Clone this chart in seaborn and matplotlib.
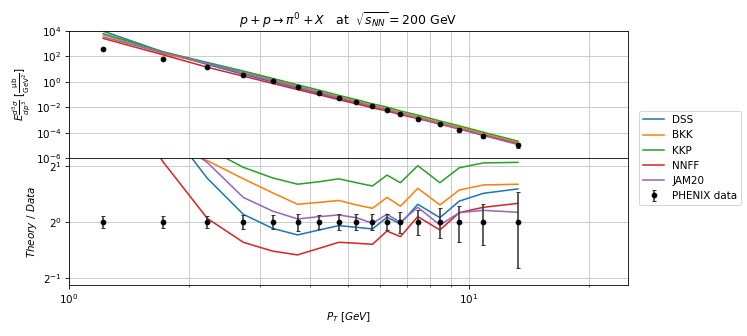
# p + p -> pi0 + X at sqrt(s_NN) = 200 GeV : theory vs PHENIX data

import numpy as np
import matplotlib
matplotlib.use("Agg")
import matplotlib.pyplot as plt
import seaborn as sns

# ============================================================
# Data
# ============================================================

pt = [1.22, 1.72, 2.22, 2.73, 3.23, 3.73, 4.23, 4.73, 5.23, 5.74,
      6.24, 6.74, 7.45, 8.46, 9.46, 10.86, 13.25]

# PHENIX cross section [mub / GeV^2]
phenix = [373, 62, 13.1, 3.5, 1.06, 0.36, 0.129, 0.0493, 0.0239, 0.0116,
          5.65e-3, 3.09e-3, 1.18e-3, 5.08e-4, 1.72e-4, 5.15e-5, 1.02e-5]

# relative uncertainty of the data
rel_err = [0.075, 0.075, 0.075, 0.085, 0.09, 0.105, 0.09, 0.095, 0.10, 0.095,
           0.10, 0.13, 0.15, 0.18, 0.22, 0.25, 0.44]

# theory / data ratios
dss = [25, 3.5, 1.71, 1.095, 0.92, 0.848, 0.902, 0.952, 0.932, 0.913,
       1.055, 0.973, 1.24, 1.05, 1.29, 1.42, 1.50]
bkk = [13, 2.6, 2.13, 1.70, 1.43, 1.24, 1.27, 1.30, 1.23, 1.18,
       1.35, 1.21, 1.51, 1.23, 1.48, 1.575, 1.59]
kkp = [16, 3.6, 2.48, 1.96, 1.72, 1.59, 1.64, 1.70, 1.62, 1.555,
       1.78, 1.62, 2.0, 1.62, 1.95, 2.07, 2.085]
nnff = [6.7, 2.1, 1.04, 0.774, 0.694, 0.662, 0.719, 0.774, 0.765, 0.755,
        0.89, 0.83, 1.064, 0.902, 1.118, 1.194, 1.254]
jam20 = [8.8, 3.1, 2.08, 1.35, 1.14, 1.034, 1.064, 1.086, 1.05, 0.98,
         1.095, 0.993, 1.194, 0.959, 1.118, 1.15, 1.123]

models = ["DSS", "BKK", "KKP", "NNFF", "JAM20"]
ratios = [dss, bkk, kkp, nnff, jam20]
colors = sns.color_palette("tab10", 5)

# ============================================================
# Plot
# ============================================================

fig, (ax_top, ax_bot) = plt.subplots(2, 1, sharex=True, figsize=(10, 4.5), dpi=74.7)
fig.subplots_adjust(left=0.092, right=0.841, top=0.908, bottom=0.151, hspace=0)

ax_top.set_xscale("log")
ax_top.set_yscale("log")
ax_bot.set_yscale("log", base=2)

pt_arr = np.array(pt)
data_arr = np.array(phenix)
err_arr = np.array(rel_err)

for name, ratio, c in zip(models, ratios, colors):
    theory = data_arr * np.array(ratio)
    sns.lineplot(x=pt_arr, y=theory, ax=ax_top, color=c, lw=1.5, legend=False)
    sns.lineplot(x=pt_arr, y=np.array(ratio), ax=ax_bot, color=c, lw=1.5, label=name)

# data points
ax_top.errorbar(pt_arr, data_arr, yerr=data_arr * err_arr, fmt="o", color="k",
                ecolor="#333333", ms=4.5, capsize=2, elinewidth=1.5, zorder=5)
ax_bot.errorbar(pt_arr, np.ones_like(pt_arr), yerr=err_arr, fmt="o", color="k",
                ecolor="#333333", ms=4.5, capsize=2, elinewidth=1.5, zorder=5,
                label="PHENIX data")

# axes limits / ticks
ax_top.set_xlim(1, 25)
ax_top.set_ylim(1e-6, 1e4)
ax_top.set_yticks([1e4, 1e2, 1e0, 1e-2, 1e-4, 1e-6])
ax_top.yaxis.set_minor_locator(matplotlib.ticker.NullLocator())
ax_bot.set_ylim(1 / 2.2, 2.2)
ax_bot.set_yticks([0.5, 1, 2])
ax_bot.yaxis.set_minor_locator(matplotlib.ticker.NullLocator())

# grids
for ax in (ax_top, ax_bot):
    ax.grid(True, which="major", color="0.8", lw=1)
    ax.grid(True, which="minor", axis="x", color="0.8", lw=1)
    ax.set_axisbelow(True)

# labels
ax_top.set_title(r"$p + p \rightarrow \pi^0 + X$   at  $\sqrt{s_{NN}} = 200$ GeV")
ax_top.set_ylabel(r"$E\frac{d^3\sigma}{dp^3}$ [$\frac{\mathrm{\mu b}}{\mathrm{GeV^2}}$]")
ax_bot.set_ylabel(r"$Theory\ /\ Data$")
ax_bot.set_xlabel(r"$P_T\ [GeV]$")

ax_bot.legend(loc="center left", bbox_to_anchor=(1.01, 1.0))

plt.savefig("out.png", dpi=74.7)
